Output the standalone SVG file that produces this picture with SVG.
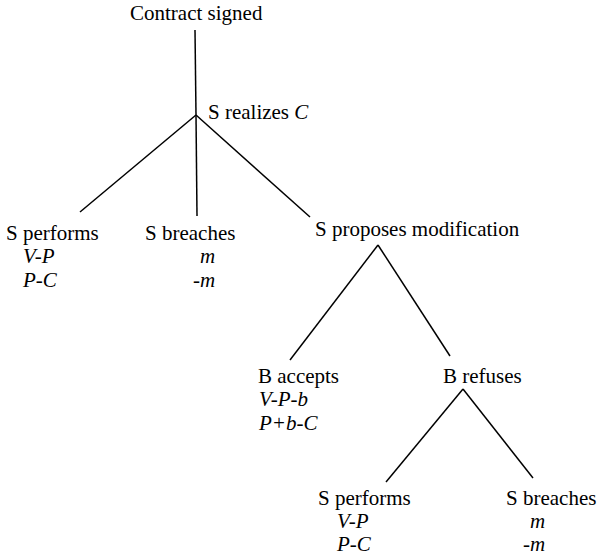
<svg xmlns="http://www.w3.org/2000/svg" width="598" height="556" viewBox="0 0 598 556">
<style>
text{font-family:"Liberation Serif","Times New Roman",serif;font-size:21px;fill:#000}
.i{font-style:italic}
.e{stroke:#000;stroke-width:1.5;fill:none}
</style>
<rect width="598" height="556" fill="#fff"/>
<g id="connectors">
<line class="e" x1="195" y1="30" x2="196" y2="115"/>
<line class="e" x1="196" y1="115" x2="80" y2="212"/>
<line class="e" x1="196" y1="115" x2="197" y2="216"/>
<line class="e" x1="196" y1="115" x2="310" y2="217"/>
<line class="e" x1="378" y1="245" x2="290" y2="360"/>
<line class="e" x1="378" y1="245" x2="450" y2="356"/>
<line class="e" x1="463" y1="389" x2="386" y2="482"/>
<line class="e" x1="463" y1="389" x2="533" y2="478"/>
</g>
<g id="n-contract"><text x="130" y="20">Contract signed</text></g>
<g id="n-realizes"><text x="208" y="119">S realizes <tspan class="i">C</tspan></text></g>
<g id="n-performs1"><text x="6" y="240">S performs</text><text class="i" x="23" y="263">V-P</text><text class="i" x="23" y="287">P-C</text></g>
<g id="n-breaches1"><text x="145" y="240">S breaches</text><text class="i" x="200" y="263">m</text><text class="i" x="193" y="287">-m</text></g>
<g id="n-proposes"><text x="315" y="236">S proposes modification</text></g>
<g id="n-accepts"><text x="258" y="383">B accepts</text><text class="i" x="259" y="406">V-P-b</text><text class="i" x="259" y="430">P+b-C</text></g>
<g id="n-refuses"><text x="443" y="383">B refuses</text></g>
<g id="n-performs2"><text x="318" y="505">S performs</text><text class="i" x="337" y="528">V-P</text><text class="i" x="337" y="551">P-C</text></g>
<g id="n-breaches2"><text x="506" y="505">S breaches</text><text class="i" x="530" y="528">m</text><text class="i" x="523" y="551">-m</text></g>
</svg>
